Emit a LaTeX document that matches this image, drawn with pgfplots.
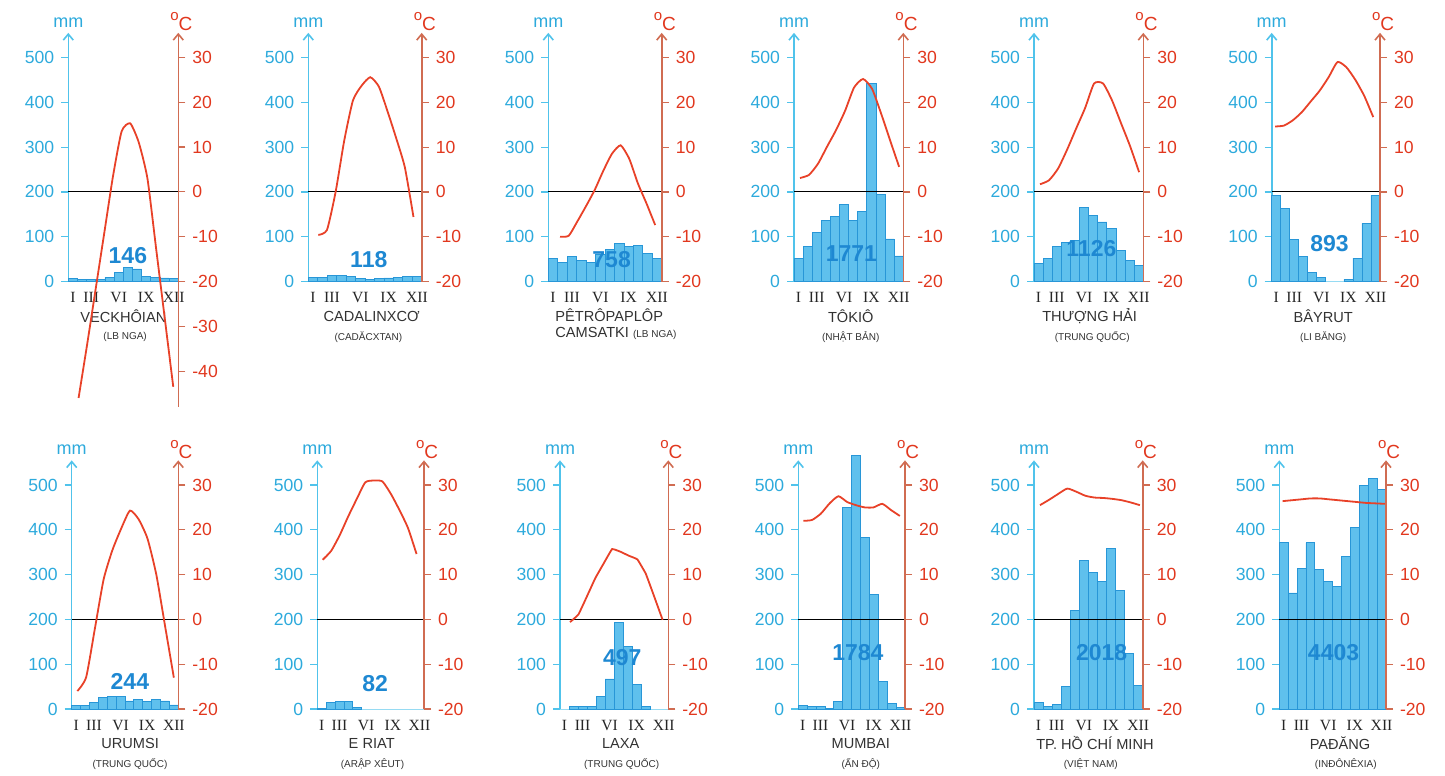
\documentclass[border=0pt]{standalone}
\usepackage{fontspec}
\setmainfont{Liberation Sans}
\newfontfamily\serifm{Liberation Serif}
\usepackage{pgfplots}
\pgfplotsset{compat=1.18}
\usetikzlibrary{arrows.meta}
\definecolor{cyT}{RGB}{45,170,220}
\definecolor{cyL}{RGB}{80,195,235}
\definecolor{rdT}{RGB}{225,55,30}
\definecolor{rdL}{RGB}{208,108,82}
\definecolor{rdC}{RGB}{232,65,40}
\definecolor{barF}{RGB}{95,192,237}
\definecolor{barD}{RGB}{40,150,215}
\definecolor{totC}{RGB}{30,136,210}
\definecolor{nameC}{RGB}{50,50,50}
\newcommand\tickfont{\fontsize{8.8}{10}\selectfont}
\newcommand\monthfont{\serifm\fontsize{7.8}{8}\selectfont}
\newcommand\oC{\raisebox{5pt}{\fontsize{7.5}{7}\selectfont o}C}
\pgfplotsset{
  pr/.style={
    scale only axis, height=124.32pt, xmin=0.5, xmax=12.5, ymin=0, ymax=555,
    clip=false, anchor=south west,
    axis y line*=left, axis x line*=bottom,
    y axis line style={draw=cyL, line width=0.8pt, -{Straight Barb[length=3pt,width=5pt]}},
    x axis line style={draw=cyL!60, line width=0.5pt, -},
    ytick={0,100,200,300,400,500},
    ytick style={draw=cyL, line width=0.6pt},
    tick align=outside, major tick length=3.5pt,
    yticklabel style={font=\tickfont, text=cyT},
    xtick={1,3,6,9,12}, xticklabels={I,III,VI,IX,XII},
    xtick style={draw=none},
    xticklabel style={font=\monthfont, text=black!85, yshift=1.5pt},
    /pgf/number format/assume math mode=true,
  },
  tp/.style={
    scale only axis, height=124.32pt, ymin=-20, ymax=35.5,
    clip=false, anchor=south west,
    axis y line*=right, axis x line=none, xtick=\empty,
    y axis line style={draw=rdL, line width=0.8pt, -{Straight Barb[length=3pt,width=5pt]}},
    ytick={-20,-10,0,10,20,30}, yticklabels={-20,-10,0,10,20,30},
    ytick style={draw=rdL, line width=0.6pt},
    tick align=outside, major tick length=3.5pt,
    yticklabel style={font=\tickfont, text=rdT},
  },
  bars/.style={ybar, bar width=1, fill=barF, draw=barD, line width=0.4pt},
  zl/.style={black, line width=0.55pt},
  tc/.style={rdC, line width=0.9pt, smooth, tension=0.35, mark=none},
}
\tikzset{
  tot/.style={font=\bfseries\fontsize{11.5}{12}\selectfont, text=totC, inner sep=0pt},
  nm/.style={font=\fontsize{7.3}{8}\selectfont, text=nameC, inner sep=0pt},
  ct/.style={font=\fontsize{5}{6}\selectfont, text=nameC, inner sep=0pt},
  mml/.style={font=\fontsize{9}{10}\selectfont, text=cyT, inner sep=0pt},
  ocl/.style={font=\fontsize{9.5}{10}\selectfont, text=rdT, inner sep=0pt, anchor=base west, xshift=-4.15pt},
}
\begin{document}
\begin{tikzpicture}
\path[use as bounding box] (0,0) rectangle (722.5pt,-388pt);
% ---------- P1 Veckhoian
\begin{axis}[pr, at={(34.15pt,-140.75pt)}, width=55pt]
\addplot[bars] coordinates {(1,6)(2,5)(3,4)(4,5)(5,9)(6,20)(7,32)(8,28)(9,12)(10,10)(11,8)(12,7)};
\addplot[zl] coordinates {(0.5,200)(12.5,200)};
\node[tot] at (axis cs:7,58) {146};
\node[nm] at (axis cs:6.5,-77) {VECKHÔIAN};
\node[ct] at (axis cs:6.7,-124) {(LB NGA)};
\node[mml] at (axis cs:0.5,577) {mm};
\node[ocl] at (axis cs:12.5,560) {\oC};
\end{axis}
\begin{axis}[tp, at={(34.15pt,-203.47pt)}, width=55pt, height=187.04pt, ymin=-48, xmin=-0.193, xmax=12.586,
  ytick={-40,-30,-20,-10,0,10,20,30}, yticklabels={-40,-30,-20,-10,0,10,20,30}]
\addplot[tc] coordinates {(1,-46)(2,-34)(3,-21.5)(4,-9)(5,3.5)(6,13.5)(7,15.3)(8,11)(9,3)(10,-12.5)(11,-28)(12,-43.5)};
\end{axis}
% ---------- P2 Cadalinxco
\begin{axis}[pr, at={(154.15pt,-140.75pt)}, width=56.7pt]
\addplot[bars] coordinates {(1,10)(2,10)(3,13)(4,13)(5,11)(6,7)(7,5)(8,7)(9,8)(10,10)(11,12)(12,12)};
\addplot[zl] coordinates {(0.5,200)(12.5,200)};
\node[tot] at (axis cs:6.9,48) {118};
\node[nm] at (axis cs:7.2,-77) {CADALINXCƠ};
\node[ct] at (axis cs:6.85,-124) {(CADĂCXTAN)};
\node[mml] at (axis cs:0.5,577) {mm};
\node[ocl] at (axis cs:12.5,560) {\oC};
\end{axis}
\begin{axis}[tp, at={(154.15pt,-140.75pt)}, width=56.7pt, xmin=-0.158, xmax=12.95]
\addplot[tc] coordinates {(1,-9.6)(2,-8.5)(3,0)(4,11.5)(5,20.4)(6,23.7)(7,25.6)(8,23.5)(9,18)(10,12)(11,5.5)(12,-5.6)};
\end{axis}
% ---------- P3 Petropavlovsk
\begin{axis}[pr, at={(274.15pt,-140.75pt)}, width=56.7pt]
\addplot[bars] coordinates {(1,52)(2,42)(3,55)(4,47)(5,43)(6,60)(7,72)(8,85)(9,78)(10,80)(11,62)(12,52)};
\addplot[zl] coordinates {(0.5,200)(12.5,200)};
\node[tot] at (axis cs:7.2,48) {758};
\node[nm, anchor=west] at (axis cs:1.21,-75) {PÊTRÔPAPLÔP};
\node[nm, anchor=west] at (axis cs:1.21,-115) {CAMSATKI {\fontsize{5}{6}\selectfont (LB NGA)}};
\node[mml] at (axis cs:0.5,577) {mm};
\node[ocl] at (axis cs:12.5,560) {\oC};
\end{axis}
\begin{axis}[tp, at={(274.15pt,-140.75pt)}, width=56.7pt, xmin=-0.354, xmax=12.753]
\addplot[tc] coordinates {(1,-10)(2,-9.8)(3,-6.6)(4,-3.2)(5,0.4)(6,4.7)(7,8.5)(8,10.4)(9,7.4)(10,1.9)(11,-2.6)(12,-7.4)};
\end{axis}
% ---------- P4 Tokio
\begin{axis}[pr, at={(397pt,-140.75pt)}, width=54.65pt]
\addplot[bars] coordinates {(1,52)(2,78)(3,110)(4,137)(5,146)(6,173)(7,136)(8,156)(9,442)(10,195)(11,95)(12,57)};
\addplot[zl] coordinates {(0.5,200)(12.5,200)};
\node[tot] at (axis cs:6.8,63) {1771};
\node[nm] at (axis cs:6.73,-77) {TÔKIÔ};
\node[ct] at (axis cs:6.73,-124) {(NHẬT BẢN)};
\node[mml] at (axis cs:0.5,577) {mm};
\node[ocl] at (axis cs:12.5,560) {\oC};
\end{axis}
\begin{axis}[tp, at={(397pt,-140.75pt)}, width=54.65pt, xmin=0.333, xmax=12.465]
\addplot[tc] coordinates {(1,3.1)(2,3.8)(3,6.3)(4,10.1)(5,13.8)(6,18.1)(7,23.3)(8,25.2)(9,23)(10,17.5)(11,11.5)(12,5.6)};
\end{axis}
% ---------- P5 Thuong Hai
\begin{axis}[pr, at={(517pt,-140.75pt)}, width=54.65pt]
\addplot[bars] coordinates {(1,41)(2,52)(3,78)(4,88)(5,92)(6,165)(7,148)(8,133)(9,118)(10,69)(11,48)(12,36)};
\addplot[zl] coordinates {(0.5,200)(12.5,200)};
\node[tot] at (axis cs:6.8,74) {1126};
\node[nm] at (axis cs:6.61,-77) {THƯỢNG HẢI};
\node[ct] at (axis cs:6.9,-124) {(TRUNG QUỐC)};
\node[mml] at (axis cs:0.5,577) {mm};
\node[ocl] at (axis cs:12.5,560) {\oC};
\end{axis}
\begin{axis}[tp, at={(517pt,-140.75pt)}, width=54.65pt, xmin=0.333, xmax=12.465]
\addplot[tc] coordinates {(1,1.7)(2,2.6)(3,5.2)(4,9.4)(5,14.1)(6,18.7)(7,24.2)(8,24.2)(9,20.4)(10,15.3)(11,10.2)(12,4.4)};
\end{axis}
% ---------- P6 Bayrut
\begin{axis}[pr, at={(635.85pt,-140.75pt)}, width=54.15pt]
\addplot[bars] coordinates {(1,193)(2,163)(3,94)(4,56)(5,20)(6,9)(9,5)(10,52)(11,130)(12,193)};
\addplot[zl] coordinates {(0.5,200)(12.5,200)};
\node[tot] at (axis cs:6.9,85) {893};
\node[nm] at (axis cs:6.21,-77) {BÂYRUT};
\node[ct] at (axis cs:6.21,-124) {(LI BĂNG)};
\node[mml] at (axis cs:0.5,577) {mm};
\node[ocl] at (axis cs:12.5,560) {\oC};
\end{axis}
\begin{axis}[tp, at={(635.85pt,-140.75pt)}, width=54.15pt, xmin=0.626, xmax=12.758]
\addplot[tc] coordinates {(1,14.6)(2,14.8)(3,16)(4,17.8)(5,20.2)(6,22.6)(7,25.6)(8,29)(9,27.8)(10,25)(11,21.4)(12,16.7)};
\end{axis}
% ---------- P7 Urumsi
\begin{axis}[pr, at={(35.85pt,-354.5pt)}, width=53.3pt]
\addplot[bars] coordinates {(1,8)(2,8)(3,14)(4,25)(5,28)(6,28)(7,18)(8,22)(9,16)(10,21)(11,18)(12,9)};
\addplot[zl] coordinates {(0.5,200)(12.5,200)};
\node[tot] at (axis cs:7.05,62) {244};
\node[nm] at (axis cs:7.07,-77) {URUMSI};
\node[ct] at (axis cs:7.07,-122) {(TRUNG QUỐC)};
\node[mml] at (axis cs:0.5,578) {mm};
\node[ocl] at (axis cs:12.5,560) {\oC};
\end{axis}
\begin{axis}[tp, at={(35.85pt,-354.5pt)}, width=53.3pt, xmin=0.352, xmax=12.507]
\addplot[tc] coordinates {(1,-16)(2,-12.9)(3,-2)(4,9)(5,15.5)(6,20.3)(7,24.3)(8,22.3)(9,18)(10,10)(11,-1.5)(12,-13)};
\end{axis}
% ---------- P8 E Riat
\begin{axis}[pr, at={(158.65pt,-354.5pt)}, width=53.35pt]
\addplot[bars] coordinates {(1,2)(2,14)(3,17)(4,17)(5,3)};
\addplot[zl] coordinates {(0.5,200)(12.5,200)};
\node[tot] at (axis cs:7,56) {82};
\node[nm] at (axis cs:6.62,-77) {E RIAT};
\node[ct] at (axis cs:6.71,-122) {(ARẬP XÊUT)};
\node[mml] at (axis cs:0.5,578) {mm};
\node[ocl] at (axis cs:12.5,560) {\oC};
\end{axis}
\begin{axis}[tp, at={(158.65pt,-354.5pt)}, width=53.35pt, xmin=0.375, xmax=12.875]
\addplot[tc] coordinates {(1,13.3)(2,15.3)(3,18.8)(4,23)(5,26.9)(6,30.6)(7,31)(8,30.8)(9,28)(10,24.4)(11,20.4)(12,14.6)};
\end{axis}
% ---------- P9 Laxa
\begin{axis}[pr, at={(280pt,-354.5pt)}, width=54.15pt]
\addplot[bars] coordinates {(2,6)(3,6)(4,6)(5,28)(6,67)(7,193)(8,140)(9,54)(10,6)};
\addplot[zl] coordinates {(0.5,200)(12.5,200)};
\node[tot] at (axis cs:7.4,114) {497};
\node[nm] at (axis cs:7.23,-77) {LAXA};
\node[ct] at (axis cs:7.33,-122) {(TRUNG QUỐC)};
\node[mml] at (axis cs:0.5,578) {mm};
\node[ocl] at (axis cs:12.5,560) {\oC};
\end{axis}
\begin{axis}[tp, at={(280pt,-354.5pt)}, width=54.15pt, xmin=-0.19, xmax=12.675]
\addplot[tc, tension=0.15] coordinates {(1,-0.6)(2,1.1)(3,5.1)(4,9.2)(5,12.5)(6,15.7)(7,15.1)(8,14.2)(9,13.4)(10,10.2)(11,5.1)(12,-0.1)};
\end{axis}
% ---------- P10 Mumbai
\begin{axis}[pr, at={(399.15pt,-354.5pt)}, width=53.35pt]
\addplot[bars] coordinates {(1,7)(2,6)(3,6)(4,1)(5,17)(6,450)(7,565)(8,383)(9,255)(10,62)(11,12)(12,4)};
\addplot[zl] coordinates {(0.5,200)(12.5,200)};
\node[tot] at (axis cs:7.2,125) {1784};
\node[nm] at (axis cs:7.53,-77) {MUMBAI};
\node[ct] at (axis cs:7.53,-122) {(ẤN ĐỘ)};
\node[mml] at (axis cs:0.5,578) {mm};
\node[ocl] at (axis cs:12.5,560) {\oC};
\end{axis}
\begin{axis}[tp, at={(399.15pt,-354.5pt)}, width=53.35pt, xmin=0.433, xmax=12.588]
\addplot[tc] coordinates {(1,22)(2,22.2)(3,23.6)(4,25.9)(5,27.5)(6,26.2)(7,25.5)(8,25)(9,25)(10,25.8)(11,24.4)(12,23.1)};
\end{axis}
% ---------- P11 TP HCM
\begin{axis}[pr, at={(517pt,-354.5pt)}, width=54.35pt]
\addplot[bars] coordinates {(1,15)(2,5)(3,11)(4,50)(5,219)(6,332)(7,305)(8,285)(9,359)(10,265)(11,125)(12,53)};
\addplot[zl] coordinates {(0.5,200)(12.5,200)};
\node[tot] at (axis cs:7.96,126) {2018};
\node[nm] at (axis cs:7.23,-77) {TP. HỒ CHÍ MINH};
\node[ct] at (axis cs:6.77,-122) {(VIỆT NAM)};
\node[mml] at (axis cs:0.5,578) {mm};
\node[ocl] at (axis cs:12.5,560) {\oC};
\end{axis}
\begin{axis}[tp, at={(517pt,-354.5pt)}, width=54.35pt, xmin=0.342, xmax=12.309]
\addplot[tc] coordinates {(1,25.5)(2,26.7)(3,28)(4,29.2)(5,28.5)(6,27.6)(7,27.2)(8,27.1)(9,26.9)(10,26.6)(11,26.1)(12,25.5)};
\end{axis}
% ---------- P12 Padang
\begin{axis}[pr, at={(639.65pt,-354.5pt)}, width=53.35pt]
\addplot[bars] coordinates {(1,371)(2,259)(3,314)(4,371)(5,312)(6,285)(7,273)(8,340)(9,406)(10,500)(11,515)(12,490)};
\addplot[zl] coordinates {(0.5,200)(12.5,200)};
\node[tot] at (axis cs:6.6,126) {4403};
\node[nm] at (axis cs:7.33,-77) {PAĐĂNG};
\node[ct] at (axis cs:7.98,-122) {(INĐÔNÊXIA)};
\node[mml] at (axis cs:0.5,578) {mm};
\node[ocl] at (axis cs:12.5,560) {\oC};
\end{axis}
\begin{axis}[tp, at={(639.65pt,-354.5pt)}, width=53.35pt, xmin=0.646, xmax=12.124]
\addplot[tc] coordinates {(1,26.4)(2,26.6)(3,26.8)(4,27)(5,27)(6,26.8)(7,26.6)(8,26.4)(9,26.2)(10,26)(11,25.9)(12,25.8)};
\end{axis}
\end{tikzpicture}
\end{document}
